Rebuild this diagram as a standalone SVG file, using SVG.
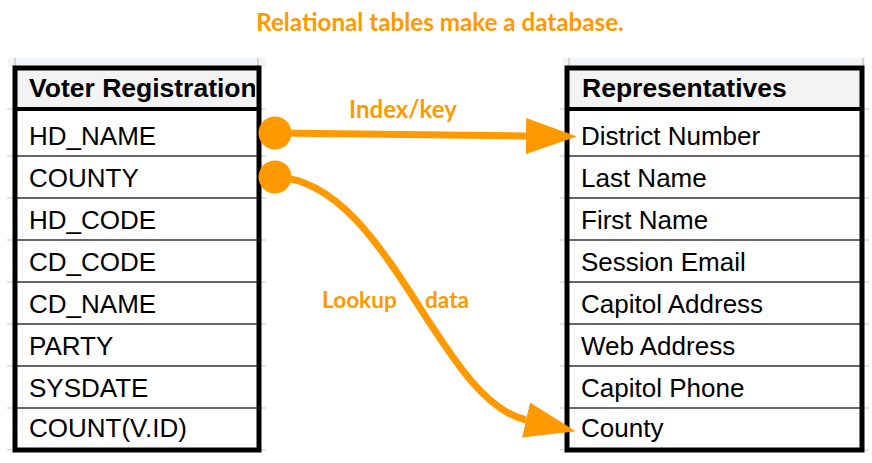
<svg xmlns="http://www.w3.org/2000/svg" width="872" height="463" viewBox="0 0 872 463">
<style>
.title{font-family:Lato,"Liberation Sans",sans-serif;font-weight:bold;fill:#FF9900}
.hdr{font-family:"Liberation Sans",Arial,sans-serif;font-weight:bold;font-size:26.5px;fill:#000}
.cell{font-family:"Liberation Sans",Arial,sans-serif;font-size:26px;fill:#000}
.band{fill:#f3f4f5}
.tick{stroke:#c8c8c8;stroke-width:1.5}
.ext{stroke:#d9d9d9;stroke-width:1.5}
.rowline{stroke:#333;stroke-width:1.6}
.frame{fill:none;stroke:#000;stroke-width:5}
.hline{stroke:#000;stroke-width:4}
.conn{fill:none;stroke:#FF9900;stroke-width:7}
.dot{fill:#FF9900}
</style>
<defs>
<marker id="ah" markerUnits="userSpaceOnUse" markerWidth="52" markerHeight="38" viewBox="0 0 52 38" refX="0" refY="19" orient="auto">
<path d="M0,1 L51,19 L0,37 z" fill="#FF9900"/>
</marker>
<clipPath id="vrclip"><rect x="15" y="68" width="240" height="41"/></clipPath>
</defs>
<rect width="872" height="463" fill="#fff"/>
<text class="title" x="440" y="31" font-size="24.2" text-anchor="middle">Relational tables make a database.</text>

<g id="voter-registration">
<rect class="band" x="8" y="58" width="258" height="9"/>
<line class="tick" x1="15" y1="58" x2="15" y2="67"/>
<line class="tick" x1="258" y1="58" x2="258" y2="67"/>
<rect x="15" y="68" width="244" height="41" fill="#f3f3f3"/>
<g class="ext">
<line x1="7" y1="109" x2="15" y2="109"/><line x1="259" y1="109" x2="266" y2="109"/>
<line x1="7" y1="156" x2="15" y2="156"/><line x1="259" y1="156" x2="266" y2="156"/>
<line x1="7" y1="198" x2="15" y2="198"/><line x1="259" y1="198" x2="266" y2="198"/>
<line x1="7" y1="240" x2="15" y2="240"/><line x1="259" y1="240" x2="266" y2="240"/>
<line x1="7" y1="282" x2="15" y2="282"/><line x1="259" y1="282" x2="266" y2="282"/>
<line x1="7" y1="324" x2="15" y2="324"/><line x1="259" y1="324" x2="266" y2="324"/>
<line x1="7" y1="366" x2="15" y2="366"/><line x1="259" y1="366" x2="266" y2="366"/>
<line x1="7" y1="408" x2="15" y2="408"/><line x1="259" y1="408" x2="266" y2="408"/>
<line x1="7" y1="450" x2="15" y2="450"/><line x1="259" y1="450" x2="266" y2="450"/>
</g>
<text class="hdr" x="29" y="97" clip-path="url(#vrclip)">Voter Registration</text>
<g class="rowline">
<line x1="15" y1="156" x2="259" y2="156"/>
<line x1="15" y1="198" x2="259" y2="198"/>
<line x1="15" y1="240" x2="259" y2="240"/>
<line x1="15" y1="282" x2="259" y2="282"/>
<line x1="15" y1="324" x2="259" y2="324"/>
<line x1="15" y1="366" x2="259" y2="366"/>
<line x1="15" y1="408" x2="259" y2="408"/>
</g>
<g id="vr-hd-name"><text class="cell" x="29" y="145">HD_NAME</text></g>
<g id="vr-county"><text class="cell" x="29" y="187">COUNTY</text></g>
<g id="vr-hd-code"><text class="cell" x="29" y="229">HD_CODE</text></g>
<g id="vr-cd-code"><text class="cell" x="29" y="271">CD_CODE</text></g>
<g id="vr-cd-name"><text class="cell" x="29" y="313">CD_NAME</text></g>
<g id="vr-party"><text class="cell" x="29" y="355">PARTY</text></g>
<g id="vr-sysdate"><text class="cell" x="29" y="397">SYSDATE</text></g>
<g id="vr-count"><text class="cell" x="29" y="437">COUNT(V.ID)</text></g>
<line class="hline" x1="15" y1="109" x2="259" y2="109"/>
<rect class="frame" x="15" y="68" width="244" height="382"/>
</g>

<g id="representatives">
<rect class="band" x="563" y="58" width="302" height="9"/>
<line class="tick" x1="569" y1="58" x2="569" y2="67"/>
<line class="tick" x1="863" y1="58" x2="863" y2="67"/>
<rect x="567" y="68" width="295" height="41" fill="#f3f3f3"/>
<g class="ext">
<line x1="560" y1="109" x2="567" y2="109"/><line x1="862" y1="109" x2="869" y2="109"/>
<line x1="560" y1="156" x2="567" y2="156"/><line x1="862" y1="156" x2="869" y2="156"/>
<line x1="560" y1="198" x2="567" y2="198"/><line x1="862" y1="198" x2="869" y2="198"/>
<line x1="560" y1="240" x2="567" y2="240"/><line x1="862" y1="240" x2="869" y2="240"/>
<line x1="560" y1="282" x2="567" y2="282"/><line x1="862" y1="282" x2="869" y2="282"/>
<line x1="560" y1="324" x2="567" y2="324"/><line x1="862" y1="324" x2="869" y2="324"/>
<line x1="560" y1="366" x2="567" y2="366"/><line x1="862" y1="366" x2="869" y2="366"/>
<line x1="560" y1="408" x2="567" y2="408"/><line x1="862" y1="408" x2="869" y2="408"/>
<line x1="560" y1="450" x2="567" y2="450"/><line x1="862" y1="450" x2="869" y2="450"/>
</g>
<text class="hdr" x="582" y="97">Representatives</text>
<g class="rowline">
<line x1="567" y1="156" x2="862" y2="156"/>
<line x1="567" y1="198" x2="862" y2="198"/>
<line x1="567" y1="240" x2="862" y2="240"/>
<line x1="567" y1="282" x2="862" y2="282"/>
<line x1="567" y1="324" x2="862" y2="324"/>
<line x1="567" y1="366" x2="862" y2="366"/>
<line x1="567" y1="408" x2="862" y2="408"/>
</g>
<g id="rep-district-number"><text class="cell" x="581" y="145">District Number</text></g>
<g id="rep-last-name"><text class="cell" x="581" y="187">Last Name</text></g>
<g id="rep-first-name"><text class="cell" x="581" y="229">First Name</text></g>
<g id="rep-session-email"><text class="cell" x="581" y="271">Session Email</text></g>
<g id="rep-capitol-address"><text class="cell" x="581" y="313">Capitol Address</text></g>
<g id="rep-web-address"><text class="cell" x="581" y="355">Web Address</text></g>
<g id="rep-capitol-phone"><text class="cell" x="581" y="397">Capitol Phone</text></g>
<g id="rep-county"><text class="cell" x="581" y="437">County</text></g>
<line class="hline" x1="567" y1="109" x2="862" y2="109"/>
<rect class="frame" x="567" y="68" width="295" height="382"/>
</g>

<g id="connectors">
<g id="conn-index-key">
<path class="conn" d="M275,133 L526,136" marker-end="url(#ah)"/>
<circle class="dot" cx="275" cy="133" r="16.5"/>
<text class="title" x="403" y="118" font-size="24" text-anchor="middle">Index/key</text>
</g>
<g id="conn-lookup-data">
<path class="conn" d="M275,177 C388,180 438,400 526,420" marker-end="url(#ah)"/>
<circle class="dot" cx="275" cy="177" r="16.5"/>
<text class="title" x="322" y="308" font-size="22.6">Lookup</text>
<text class="title" x="425" y="308" font-size="22.6">data</text>
</g>
</g>
</svg>
